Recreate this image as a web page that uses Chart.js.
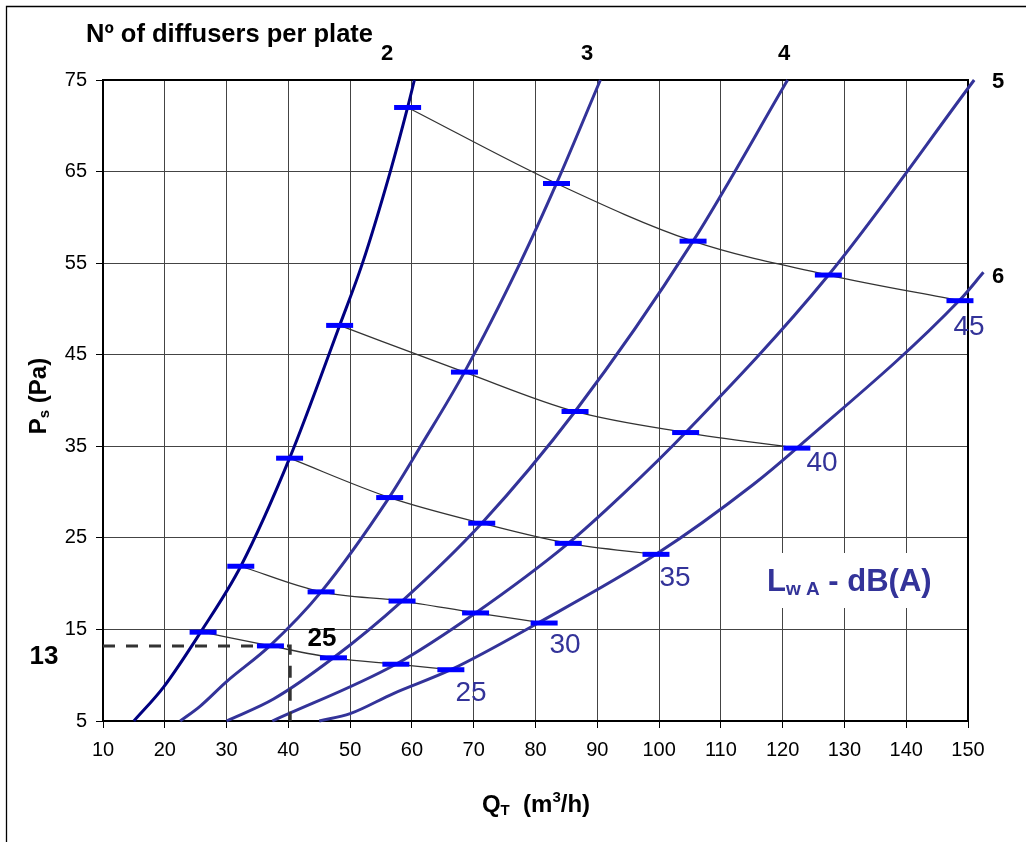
<!DOCTYPE html>
<html>
<head>
<meta charset="utf-8">
<script src="https://cdn.jsdelivr.net/npm/chart.js@4.4.1/dist/chart.umd.min.js"></script>
<style>
  html, body { margin: 0; padding: 0; background: #fff; }
  canvas { display: block; }
</style>
</head>
<body>
<canvas id="chart" width="1026" height="842"></canvas>
<script>
// axis ticks
const flowTicks = [10, 20, 30, 40, 50, 60, 70, 80, 90, 100, 110, 120, 130, 140, 150];
const pressTicks = [5, 15, 25, 35, 45, 55, 65, 75];

// curves: number of diffusers per plate (Q in m3/h, Ps in Pa)
const flow2 = [15, 19.8, 25.8, 32.3, 40.2, 48.3, 52, 56.5, 59.3, 60.4];
const press2 = [5, 8.7, 14.7, 21.9, 33.7, 48.2, 55, 65, 72, 75];
const flow3 = [22.5, 25.7, 30, 37, 45.3, 56.3, 61.4, 68.5, 77.5, 83.4, 90.5];
const press3 = [5, 6.6, 9.3, 13.2, 19.1, 29.4, 35, 43.1, 55, 63.7, 75];
const flow4 = [30, 37.6, 47.3, 58.4, 71.3, 86.4, 105.5, 120.8];
const press4 = [5, 7.4, 11.9, 18.1, 26.6, 38.8, 57.4, 75];
const flow5 = [37.4, 57.4, 70.3, 85.3, 94.2, 104.3, 127.3, 151];
const press5 = [5, 11.2, 16.8, 24.4, 29.8, 36.5, 53.6, 75];
const flow6 = [45, 50, 57, 66.3, 80.4, 99.5, 115.2, 122.3, 148.7, 152.5];
const press6 = [5, 5.8, 8, 10.6, 15.7, 23.2, 30.8, 34.8, 51, 54];

// sound power level lines LwA dB(A)
const lwa25Flow = [26.2, 37.1, 47.3, 57.4, 66.3];
const lwa25Press = [14.7, 13.2, 11.9, 11.2, 10.6];
const lwa30Flow = [32.3, 45.3, 58.4, 70.3, 81.4];
const lwa30Press = [21.9, 19.1, 18.1, 16.8, 15.7];
const lwa35Flow = [40.2, 56.4, 71.3, 85.3, 99.5];
const lwa35Press = [33.7, 29.4, 26.6, 24.4, 23.2];
const lwa40Flow = [48.3, 68.5, 86.4, 104.3, 122.3];
const lwa40Press = [48.2, 43.1, 38.8, 36.5, 34.8];
const lwa45Flow = [59.3, 83.4, 105.5, 127.4, 148.7];
const lwa45Press = [72.0, 63.7, 57.4, 53.7, 50.9];

// example reading: 40 m3/h -> 13 Pa
const exampleFlow = [10, 40.3, 40.3];
const examplePress = [13.2, 13.2, 5];

const FONT = '"Liberation Sans", Arial, sans-serif';

function pts(xs, ys) {
  return xs.map((x, i) => ({ x: x, y: ys[i] }));
}

function curve(xs, ys, color) {
  return {
    data: pts(xs, ys),
    showLine: true,
    borderColor: color,
    borderWidth: 3,
    pointRadius: 0,
    cubicInterpolationMode: 'monotone',
    clip: false,
    order: 3
  };
}

function lwaLine(xs, ys) {
  return {
    data: pts(xs, ys),
    showLine: true,
    borderColor: '#333333',
    borderWidth: 1.3,
    cubicInterpolationMode: 'monotone',
    pointStyle: 'line',
    pointRadius: 13.5,
    pointBorderWidth: 5,
    pointBorderColor: '#0000ff',
    pointBackgroundColor: '#0000ff',
    clip: false,
    order: 1
  };
}

// draw a sequence of text pieces (for sub/superscripts)
function drawRuns(ctx, runs, x, y, align) {
  let total = 0;
  runs.forEach(r => {
    ctx.font = 'bold ' + r.size + 'px ' + FONT;
    r.w = ctx.measureText(r.t).width;
    total += r.w;
  });
  let cx = align === 'center' ? x - total / 2 : x;
  runs.forEach(r => {
    ctx.font = 'bold ' + r.size + 'px ' + FONT;
    ctx.fillText(r.t, cx, y + (r.dy || 0));
    cx += r.w;
  });
}

const decorations = {
  id: 'decorations',
  beforeDraw(chart) {
    const ctx = chart.ctx;
    ctx.save();
    ctx.strokeStyle = '#000';
    ctx.lineWidth = 1.3;
    ctx.beginPath();
    ctx.moveTo(6.5, 842);
    ctx.lineTo(6.5, 6.5);
    ctx.lineTo(1026, 6.5);
    ctx.stroke();
    ctx.restore();
  },
  beforeDatasetsDraw(chart) {
    const ctx = chart.ctx;
    const a = chart.chartArea;
    ctx.save();
    // white box behind the LwA caption
    ctx.fillStyle = '#fff';
    ctx.fillRect(762, 553, 180, 55);
    ctx.strokeStyle = '#000';
    ctx.lineWidth = 2;
    ctx.strokeRect(a.left, a.top, a.right - a.left, a.bottom - a.top);
    ctx.restore();
  },
  afterDraw(chart) {
    const ctx = chart.ctx;
    ctx.save();
    ctx.textBaseline = 'alphabetic';
    ctx.fillStyle = '#000';

    // header
    ctx.textAlign = 'left';
    ctx.font = 'bold 25.5px ' + FONT;
    ctx.fillText('N\u00ba of diffusers per plate', 86, 42);

    ctx.textAlign = 'center';
    ctx.font = 'bold 22px ' + FONT;
    ctx.fillText('2', 387, 60);
    ctx.fillText('3', 587, 60);
    ctx.fillText('4', 784, 60);
    ctx.fillText('5', 998, 88);
    ctx.fillText('6', 998, 283);

    ctx.font = 'bold 26px ' + FONT;
    ctx.fillText('13', 44, 664);
    ctx.fillText('25', 322, 646);

    // LwA values
    ctx.fillStyle = '#333399';
    ctx.font = '28px ' + FONT;
    ctx.fillText('25', 471, 701);
    ctx.fillText('30', 565, 653);
    ctx.fillText('35', 675, 586);
    ctx.fillText('40', 822, 471);
    ctx.fillText('45', 969, 335);

    ctx.textAlign = 'left';
    drawRuns(ctx, [
      { t: 'L', size: 31 },
      { t: 'w A', size: 19, dy: 4 },
      { t: ' - dB(A)', size: 31 }
    ], 767, 591, 'left');

    // axis titles
    ctx.fillStyle = '#000';
    ctx.textAlign = 'left';
    drawRuns(ctx, [
      { t: 'Q', size: 24 },
      { t: 'T', size: 15, dy: 3 },
      { t: '  (m', size: 24 },
      { t: '3', size: 15, dy: -10 },
      { t: '/h)', size: 24 }
    ], 536, 812, 'center');

    ctx.translate(46, 396);
    ctx.rotate(-Math.PI / 2);
    drawRuns(ctx, [
      { t: 'P', size: 24 },
      { t: 's', size: 15, dy: 3 },
      { t: ' (Pa)', size: 24 }
    ], 0, 0, 'center');
    ctx.restore();
  }
};

new Chart(document.getElementById('chart'), {
  type: 'scatter',
  data: {
    datasets: [
      lwaLine(lwa25Flow, lwa25Press),
      lwaLine(lwa30Flow, lwa30Press),
      lwaLine(lwa35Flow, lwa35Press),
      lwaLine(lwa40Flow, lwa40Press),
      lwaLine(lwa45Flow, lwa45Press),
      curve(flow2, press2, '#000080'),
      curve(flow3, press3, '#333399'),
      curve(flow4, press4, '#333399'),
      curve(flow5, press5, '#333399'),
      curve(flow6, press6, '#333399'),
      {
        data: pts(exampleFlow, examplePress),
        showLine: true,
        borderColor: '#333333',
        borderWidth: 3,
        borderDash: [12, 11],
        pointRadius: 0,
        tension: 0,
        order: 2
      }
    ]
  },
  options: {
    responsive: false,
    devicePixelRatio: 1,
    animation: false,
    layout: { padding: { left: 0, top: 80, right: 58, bottom: 0 } },
    plugins: { legend: { display: false }, tooltip: { enabled: false } },
    scales: {
      x: {
        type: 'linear',
        min: 10,
        max: 150,
        afterBuildTicks: s => { s.ticks = flowTicks.map(v => ({ value: v })); },
        afterFit: s => { s.height = 121; },
        grid: { color: '#444', lineWidth: 1, tickColor: '#000', tickLength: 7 },
        border: { display: true, color: '#000', width: 2 },
        ticks: { color: '#000', padding: 10, font: { family: FONT, size: 20 } }
      },
      y: {
        type: 'linear',
        min: 5,
        max: 75,
        afterBuildTicks: s => { s.ticks = pressTicks.map(v => ({ value: v })); },
        afterFit: s => { s.width = 103; },
        grid: { color: '#444', lineWidth: 1, tickColor: '#000', tickLength: 7 },
        border: { display: true, color: '#000', width: 2 },
        ticks: { color: '#000', padding: 9, font: { family: FONT, size: 20 } }
      }
    }
  },
  plugins: [decorations]
});
</script>
</body>
</html>
